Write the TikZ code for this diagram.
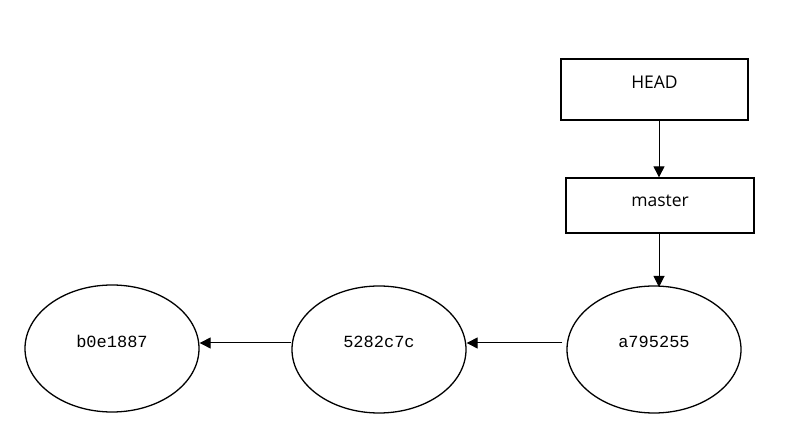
\documentclass[tikz,border=0pt]{standalone}
\usepackage{fontspec}
\setmainfont{Open Sans}
\newfontfamily\hashfont{Liberation Mono}
\usetikzlibrary{shapes.geometric,arrows.meta}
\tikzset{
  ref/.style={draw, line width=1.3pt, rectangle, inner sep=0pt, font=\fontsize{17.5}{20}\selectfont},
  commit/.style={draw, line width=1.3pt, ellipse, inner sep=0pt, minimum width=174pt, minimum height=127pt},
  hashlabel/.style={font=\hashfont\fontsize{17}{20}\selectfont},
  arr/.style={line width=1pt, -{Triangle[length=11pt,width=11pt]}}
}
\begin{document}
\begin{tikzpicture}[x=1pt,y=-1pt]
\useasboundingbox (0,0) rectangle (793,443);
\node[ref, minimum width=187pt, minimum height=61pt] (head) at (654.5,89.5) {};
\node[ref, draw=none] (headt) at (654.5,82) {HEAD};
\node[ref, minimum width=188pt, minimum height=55pt] (master) at (660,205.5) {};
\node[ref, draw=none] (mastert) at (660,201) {master};
\node[commit] (c1) at (112,348.5) {};
\node[hashlabel] (c1t) at (112,341) {b0e1887};
\node[commit] (c2) at (379,349.5) {};
\node[hashlabel] (c2t) at (379,342) {5282c7c};
\node[commit] (c3) at (654,349.5) {};
\node[hashlabel] (c3t) at (654,342) {a795255};
\coordinate (xa) at (659,0);
\draw[arr] (head.south -| xa) -- (master.north -| xa);
\draw[arr] (master.south -| xa) -- ([yshift=62.5pt]c3.center -| xa);
\draw[arr] ([shift={(-4pt,6.5pt)}]c3.west) -- ([yshift=6.5pt]c2.east);
\draw[arr] ([yshift=6.5pt]c2.west) -- ([yshift=5.5pt]c1.east);
\end{tikzpicture}
\end{document}
